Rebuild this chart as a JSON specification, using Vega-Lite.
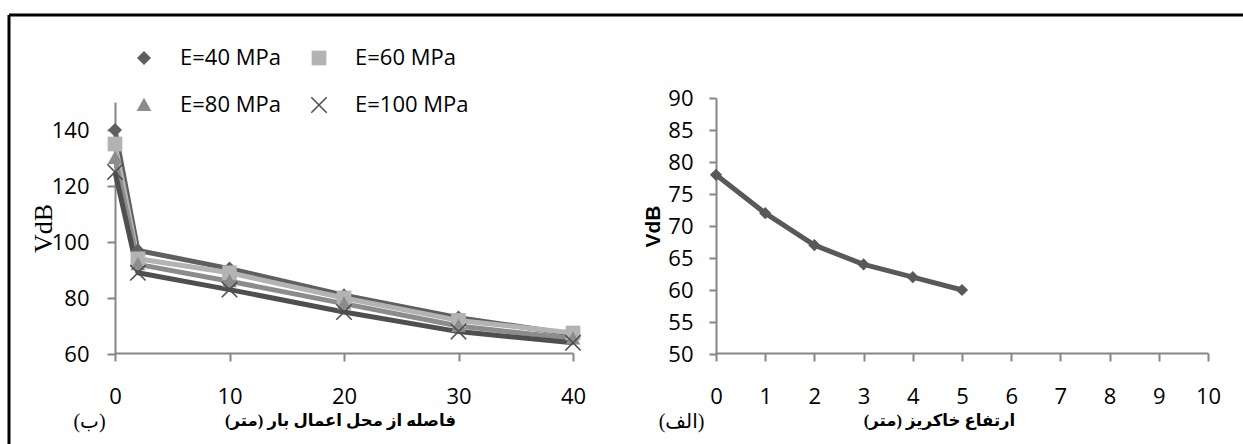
{
  "$schema": "https://vega.github.io/schema/vega-lite/v6.json",
  "width": 1234,
  "height": 429,
  "autosize": {"type": "none"},
  "padding": {"left": 9, "top": 15, "right": 0, "bottom": 0},
  "background": "white",
  "view": {"stroke": "black", "strokeWidth": 3, "strokeDash": [1234, 1663, 429, 0], "fill": "white"},
  "config": {
    "axis": {
      "grid": false,
      "domainColor": "#868686",
      "domainWidth": 2,
      "tickColor": "#868686",
      "tickWidth": 2,
      "tickSize": 8,
      "labelFont": "Open Sans",
      "labelFontSize": 22,
      "labelColor": "black",
      "labelFlush": false,
      "labelOverlap": false,
      "labelBound": false,
      "titleColor": "black"
    },
    "legend": {
      "orient": "none", "legendX": 124, "legendY": 32, "columns": 2, "direction": "horizontal",
      "title": null, "padding": 0, "labelFont": "Open Sans", "labelFontSize": 22, "labelColor": "black",
      "labelOffset": 25, "rowPadding": 25, "columnPadding": 27, "symbolSize": 196,
      "symbolStrokeWidth": 0
    }
  },
  "params": [
    {"name": "legendPaths", "value": {
      "E=40 MPa": "M-3.93,-0.36L3.93,-0.36L3.93,0.36L-3.93,0.36ZM0,-1L1,0L0,1L-1,0Z",
      "E=60 MPa": "M-3.93,-0.36L3.93,-0.36L3.93,0.36L-3.93,0.36ZM-1.05,-1.05L1.05,-1.05L1.05,1.05L-1.05,1.05Z",
      "E=80 MPa": "M-3.93,-0.36L3.93,-0.36L3.93,0.36L-3.93,0.36ZM0,-1.05L1.05,0.85L-1.05,0.85Z",
      "E=100 MPa": "M-3.93,-0.36L3.93,-0.36L3.93,0.36L-3.93,0.36ZM1.02,1.18L-1.18,-1.02L-1.02,-1.18L1.18,1.02ZM1.18,-1.02L-1.02,1.18L-1.18,1.02L1.02,-1.18Z"
    }}
  ],
  "datasets": {
    "distance": [
      {"series": "E=40 MPa", "distance": 0, "vdb": 140},
      {"series": "E=40 MPa", "distance": 2, "vdb": 97},
      {"series": "E=40 MPa", "distance": 10, "vdb": 90.5},
      {"series": "E=40 MPa", "distance": 20, "vdb": 81},
      {"series": "E=40 MPa", "distance": 30, "vdb": 73},
      {"series": "E=40 MPa", "distance": 40, "vdb": 67},
      {"series": "E=60 MPa", "distance": 0, "vdb": 135},
      {"series": "E=60 MPa", "distance": 2, "vdb": 94},
      {"series": "E=60 MPa", "distance": 10, "vdb": 89},
      {"series": "E=60 MPa", "distance": 20, "vdb": 80},
      {"series": "E=60 MPa", "distance": 30, "vdb": 72},
      {"series": "E=60 MPa", "distance": 40, "vdb": 67.5},
      {"series": "E=80 MPa", "distance": 0, "vdb": 130},
      {"series": "E=80 MPa", "distance": 2, "vdb": 92},
      {"series": "E=80 MPa", "distance": 10, "vdb": 86},
      {"series": "E=80 MPa", "distance": 20, "vdb": 78},
      {"series": "E=80 MPa", "distance": 30, "vdb": 70},
      {"series": "E=80 MPa", "distance": 40, "vdb": 65.5},
      {"series": "E=100 MPa", "distance": 0, "vdb": 125},
      {"series": "E=100 MPa", "distance": 2, "vdb": 89},
      {"series": "E=100 MPa", "distance": 10, "vdb": 83},
      {"series": "E=100 MPa", "distance": 20, "vdb": 75},
      {"series": "E=100 MPa", "distance": 30, "vdb": 68},
      {"series": "E=100 MPa", "distance": 40, "vdb": 64}
    ],
    "embankment": [
      {"height": 0, "vdb": 78},
      {"height": 1, "vdb": 72},
      {"height": 2, "vdb": 67},
      {"height": 3, "vdb": 64},
      {"height": 4, "vdb": 62},
      {"height": 5, "vdb": 60}
    ]
  },
  "layer": [
    {
      "data": {"name": "distance"},
      "mark": {"type": "line", "strokeWidth": 5, "strokeJoin": "round"},
      "encoding": {
        "x": {
          "field": "distance", "type": "quantitative",
          "scale": {"domain": [0, 40], "range": [106, 564], "nice": false, "zero": false},
          "axis": {
            "orient": "bottom", "offset": -91, "values": [0, 10, 20, 30, 40],
            "labelPadding": 35, "labelBaseline": "middle",
            "title": "فاصله از محل اعمال بار (متر)‏",
            "titleX": 331, "titleY": 67, "titleBaseline": "middle", "titleAlign": "center",
            "titleFont": "Liberation Serif, DejaVu Sans", "titleFontSize": 16.5, "titleFontWeight": "bold"
          }
        },
        "y": {
          "field": "vdb", "type": "quantitative",
          "scale": {"domain": [60, 150], "range": [339, 87], "nice": false, "zero": false},
          "axis": {
            "orient": "left", "offset": -106, "values": [60, 80, 100, 120, 140],
            "labelPadding": 18,
            "title": "VdB", "titleX": -72, "titleBaseline": "middle", "titleAngle": 270,
            "titleFont": "Liberation Serif", "titleFontSize": 26, "titleFontWeight": "normal"
          }
        },
        "color": {
          "field": "series", "type": "nominal",
          "scale": {
            "domain": ["E=40 MPa", "E=60 MPa", "E=80 MPa", "E=100 MPa"],
            "range": ["#5f5f5f", "#b3b3b3", "#8c8c8c", "#4f4f4f"]
          }
        }
      }
    },
    {
      "data": {"name": "distance"},
      "mark": {"type": "point", "filled": true, "opacity": 1, "size": 196, "strokeWidth": 0},
      "encoding": {
        "x": {
          "field": "distance", "type": "quantitative",
          "scale": {"domain": [0, 40], "range": [106, 564], "nice": false, "zero": false},
          "axis": {
            "orient": "bottom", "offset": -91, "domain": false, "ticks": false, "labels": false,
            "title": "(ب)", "titleX": 80, "titleY": 68, "titleBaseline": "middle", "titleAlign": "center",
            "titleFont": "Liberation Serif, DejaVu Sans", "titleFontSize": 20, "titleFontWeight": "normal"
          }
        },
        "y": {
          "field": "vdb", "type": "quantitative",
          "scale": {"domain": [60, 150], "range": [339, 87], "nice": false, "zero": false},
          "axis": null
        },
        "color": {
          "field": "series", "type": "nominal",
          "legend": {
            "encode": {
              "symbols": {
                "shape": {"value": {"expr": "legendPaths[datum.value]"}}
              }
            }
          }
        },
        "shape": {
          "field": "series", "type": "nominal",
          "scale": {
            "domain": ["E=40 MPa", "E=60 MPa", "E=80 MPa", "E=100 MPa"],
            "range": [
              "M0,-1L1,0L0,1L-1,0Z",
              "M-1.05,-1.05L1.05,-1.05L1.05,1.05L-1.05,1.05Z",
              "M0,-1.05L1.05,0.85L-1.05,0.85Z",
              "M1.02,1.18L-1.18,-1.02L-1.02,-1.18L1.18,1.02ZM1.18,-1.02L-1.02,1.18L-1.18,1.02L1.02,-1.18Z"
            ]
          }
        }
      }
    },
    {
      "data": {"name": "embankment"},
      "mark": {"type": "line", "strokeWidth": 5, "strokeJoin": "round", "color": "#595959"},
      "encoding": {
        "x": {
          "field": "height", "type": "quantitative",
          "scale": {"domain": [0, 10], "range": [707, 1199], "nice": false, "zero": false},
          "axis": {
            "orient": "bottom", "offset": -91, "values": [0, 1, 2, 3, 4, 5, 6, 7, 8, 9, 10],
            "labelPadding": 35, "labelBaseline": "middle",
            "title": "ارتفاع خاکریز (متر)‏",
            "titleX": 930, "titleY": 67, "titleBaseline": "middle", "titleAlign": "center",
            "titleFont": "Liberation Serif, DejaVu Sans", "titleFontSize": 16.5, "titleFontWeight": "bold"
          }
        },
        "y": {
          "field": "vdb", "type": "quantitative",
          "scale": {"domain": [50, 90], "range": [339, 83], "nice": false, "zero": false},
          "axis": {
            "orient": "left", "offset": -707, "values": [50, 55, 60, 65, 70, 75, 80, 85, 90],
            "labelPadding": 16, "tickSize": 7,
            "title": "VdB", "titleX": -63, "titleBaseline": "middle", "titleAngle": 270,
            "titleFont": "Liberation Sans", "titleFontSize": 21, "titleFontWeight": "bold"
          }
        }
      }
    },
    {
      "data": {"name": "embankment"},
      "mark": {"type": "point", "filled": true, "opacity": 1, "size": 150, "strokeWidth": 0, "color": "#595959", "shape": "M0,-1L1,0L0,1L-1,0Z"},
      "encoding": {
        "x": {
          "field": "height", "type": "quantitative",
          "scale": {"domain": [0, 10], "range": [707, 1199], "nice": false, "zero": false},
          "axis": {
            "orient": "bottom", "offset": -91, "domain": false, "ticks": false, "labels": false,
            "title": "(الف)", "titleX": 672, "titleY": 68, "titleBaseline": "middle", "titleAlign": "center",
            "titleFont": "Liberation Serif, DejaVu Sans", "titleFontSize": 20, "titleFontWeight": "normal"
          }
        },
        "y": {
          "field": "vdb", "type": "quantitative",
          "scale": {"domain": [50, 90], "range": [339, 83], "nice": false, "zero": false},
          "axis": null
        }
      }
    }
  ],
  "resolve": {"scale": {"x": "independent", "y": "independent"}}
}
